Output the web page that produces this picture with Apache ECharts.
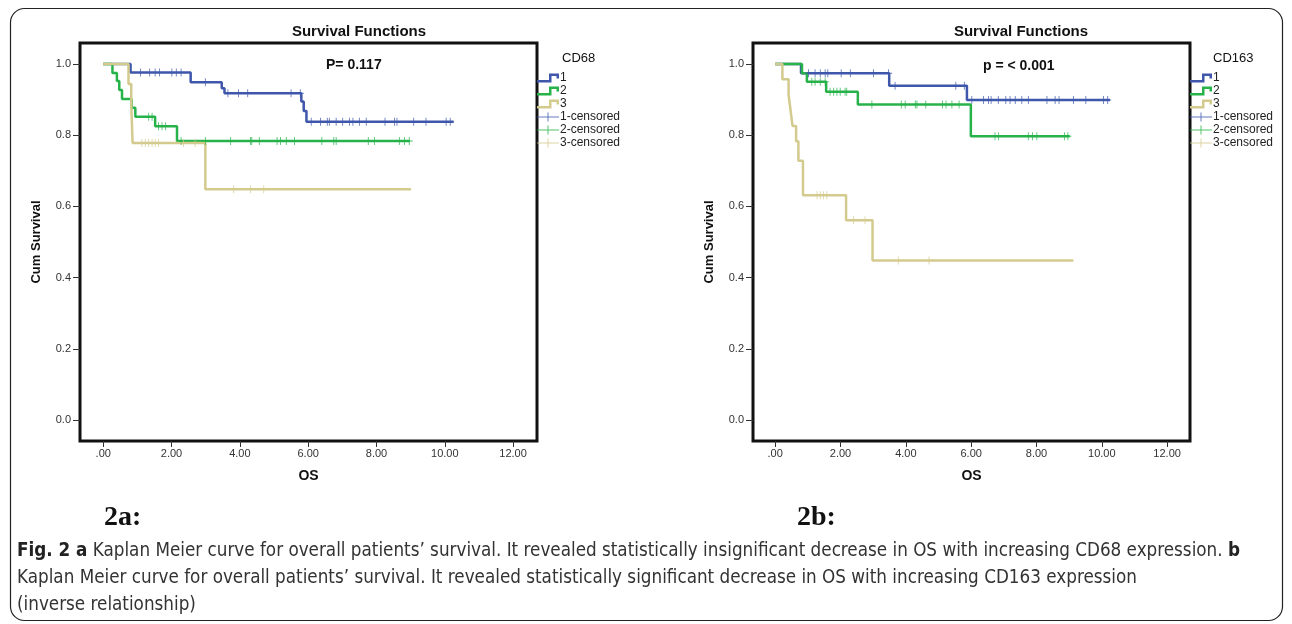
<!DOCTYPE html>
<html>
<head>
<meta charset="utf-8">
<script src="https://cdn.jsdelivr.net/npm/echarts@6/dist/echarts.min.js"></script>
<style>
html, body { margin: 0; padding: 0; background: #fff; }
#chart { width: 1292px; height: 624px; }
</style>
</head>
<body>
<div id="chart"></div>
<script>
// axes
const xTicks = [0, 2, 4, 6, 8, 10, 12]
const xTickLabels = ['.00', '2.00', '4.00', '6.00', '8.00', '10.00', '12.00']
const yTicks = [0, 0.2, 0.4, 0.6, 0.8, 1.0]
const yTickLabels = ['0.0', '0.2', '0.4', '0.6', '0.8', '1.0']
const groups = ['1', '2', '3']

// CD68 (panel a): event times, survival after each event, censor times, last follow-up
const cd68Time1 = [0.80, 2.56, 3.47, 3.55, 5.80, 5.87, 5.95]
const cd68Surv1 = [0.976, 0.949, 0.932, 0.918, 0.895, 0.868, 0.838]
const cd68Cens1 = [1.09, 1.36, 1.52, 1.65, 2.01, 2.14, 2.28, 2.99, 3.65, 3.96, 4.23, 5.50, 5.77,
  6.09, 6.36, 6.56, 6.62, 6.82, 7.01, 7.21, 7.31, 7.50, 7.70, 8.25, 8.53, 8.60, 9.09, 9.45, 10.04, 10.16]
const cd68End1 = 10.26

const cd68Time2 = [0.27, 0.40, 0.47, 0.55, 0.83, 0.94, 1.52, 2.16]
const cd68Surv2 = [0.975, 0.952, 0.927, 0.902, 0.877, 0.852, 0.825, 0.784]
const cd68Cens2 = [1.33, 1.43, 1.62, 1.72, 1.82, 2.28, 2.99, 3.73, 4.31, 4.35, 4.57, 5.09, 5.19,
  5.36, 5.60, 6.40, 6.75, 6.82, 7.76, 7.94, 8.67, 8.82, 8.96]
const cd68End2 = 8.98

const cd68Time3 = [0.74, 0.82, 0.86, 2.99]
const cd68Surv3 = [0.944, 0.889, 0.778, 0.648]
const cd68Cens3 = [1.13, 1.23, 1.33, 1.43, 1.52, 1.62, 2.35, 2.69, 3.82, 4.31, 4.70]
const cd68End3 = 9.01

// CD163 (panel b)
const cd163Time1 = [0.79, 3.49, 5.87]
const cd163Surv1 = [0.974, 0.939, 0.899]
const cd163Cens1 = [1.02, 1.22, 1.38, 1.53, 1.61, 2.02, 2.30, 3.01, 3.47, 3.67, 5.53, 5.79,
  6.02, 6.38, 6.53, 6.61, 6.83, 7.06, 7.19, 7.35, 7.55, 7.75, 8.32, 8.57, 8.69, 9.13, 9.51, 10.05, 10.18]
const cd163End1 = 10.25

const cd163Time2 = [0.82, 0.97, 1.56, 2.53, 5.99]
const cd163Surv2 = [0.974, 0.950, 0.922, 0.886, 0.797]
const cd163Cens2 = [1.12, 1.22, 1.38, 1.53, 1.68, 1.79, 1.89, 1.99, 2.14, 2.19, 2.96, 3.86, 3.98,
  4.29, 4.34, 4.61, 5.12, 5.23, 5.41, 5.63, 6.73, 6.84, 7.75, 7.88, 8.01, 8.86, 8.96]
const cd163End2 = 9.02

const cd163Time3 = [0.22, 0.41, 0.47, 0.53, 0.64, 0.71, 0.85, 2.17, 2.98]
const cd163Surv3 = [0.957, 0.913, 0.870, 0.826, 0.783, 0.728, 0.631, 0.561, 0.448]
const cd163Cens3 = [1.28, 1.38, 1.48, 1.58, 2.40, 2.75, 3.77, 4.71]
const cd163End3 = 9.13

const colors = ['#3f57ab', '#27b24a', '#d3ca8e']
const FONT = 'Liberation Sans, Arial, sans-serif'
const NARROW = '"Liberation Sans Narrow", "DejaVu Sans Condensed", sans-serif'

const stepIcon = 'path://M0,6.5H12V0H22V5H19.5V2.5H14.5V9H0Z'
const plusIcon = 'path://M0,4H10.5V0H11.5V4H22V5H11.5V9H10.5V5H0Z'
const plusMark = 'path://M0,3.5H3.5V0H4.5V3.5H8V4.5H4.5V8H3.5V4.5H0Z'

function stepData(times, surv, end) {
  const pts = [[0, 1]]
  times.forEach((t, i) => pts.push([t, surv[i]]))
  pts.push([end, surv[surv.length - 1]])
  return pts
}
function survAt(times, surv, t) {
  let s = 1
  times.forEach((tt, i) => { if (tt <= t) s = surv[i] })
  return s
}
function censorData(times, surv, cens) {
  return cens.map(t => [t, survAt(times, surv, t)])
}

const panels = [
  [[cd68Time1, cd68Surv1, cd68Cens1, cd68End1], [cd68Time2, cd68Surv2, cd68Cens2, cd68End2], [cd68Time3, cd68Surv3, cd68Cens3, cd68End3]],
  [[cd163Time1, cd163Surv1, cd163Cens1, cd163End1], [cd163Time2, cd163Surv2, cd163Cens2, cd163End2], [cd163Time3, cd163Surv3, cd163Cens3, cd163End3]]
]

const series = []
panels.forEach((panel, p) => {
  panel.forEach(([times, surv, cens, end], g) => {
    series.push({
      name: groups[g], type: 'line', step: 'end', xAxisIndex: p, yAxisIndex: p,
      showSymbol: false, symbol: 'none', animation: false, z: 3 + g,
      lineStyle: { width: 2.5, color: colors[g] }, itemStyle: { color: colors[g] },
      data: stepData(times, surv, end)
    })
  })
  panel.forEach(([times, surv, cens], g) => {
    series.push({
      name: groups[g] + '-censored', type: 'scatter', xAxisIndex: p, yAxisIndex: p,
      symbol: plusMark, symbolSize: [7, 8], animation: false, z: 6,
      itemStyle: { color: colors[g] },
      data: censorData(times, surv, cens)
    })
  })
})

const legendData = groups.map((g, i) => ({ name: g, icon: stepIcon }))
  .concat(groups.map(g => ({ name: g + '-censored', icon: plusIcon })))

function xAxis(i) {
  return {
    gridIndex: i, type: 'value', min: -0.68, max: 12.7,
    name: 'OS', nameLocation: 'middle', nameGap: 28,
    nameTextStyle: { fontFamily: FONT, fontWeight: 'bold', fontSize: 14, color: '#111' },
    axisLine: { show: false, onZero: false }, splitLine: { show: false },
    axisTick: { show: true, length: 6, customValues: xTicks, lineStyle: { color: '#333', width: 1 } },
    axisLabel: {
      customValues: xTicks, margin: 7, fontFamily: FONT, fontSize: 11, color: '#333',
      formatter: v => xTickLabels[xTicks.indexOf(v)]
    }
  }
}
function yAxis(i) {
  return {
    gridIndex: i, type: 'value', min: -0.059, max: 1.059,
    name: 'Cum Survival', nameLocation: 'middle', nameGap: 37,
    nameTextStyle: { fontFamily: FONT, fontWeight: 'bold', fontSize: 13, color: '#111' },
    axisLine: { show: false, onZero: false }, splitLine: { show: false },
    axisTick: { show: true, length: 7, customValues: yTicks, lineStyle: { color: '#333', width: 1 } },
    axisLabel: {
      customValues: yTicks, margin: 9, fontFamily: FONT, fontSize: 11, color: '#333',
      formatter: v => yTickLabels[yTicks.indexOf(v)]
    }
  }
}
function legend(left) {
  return {
    data: legendData, orient: 'vertical', left: left, top: 72, padding: 0,
    itemWidth: 22, itemHeight: 9, itemGap: 1, selectedMode: false,
    itemStyle: { borderWidth: 0 },
    textStyle: { fontFamily: FONT, fontSize: 12, color: '#222', padding: [0, 0, 0, -4] }
  }
}
function label(x, y, text, font, align) {
  return { type: 'text', x: x, y: y, style: { text: text, font: font, fill: '#111', textAlign: align || 'left', verticalAlign: 'middle' } }
}

const captionRich = {
  b: { font: 'bold 18.7px ' + NARROW, fill: '#222' }
}
const captionFont = '18.7px ' + NARROW

const chart = echarts.init(document.getElementById('chart'))
chart.setOption({
  backgroundColor: '#fff',
  animation: false,
  grid: [
    { left: 80, top: 43, width: 457, height: 398, show: true, borderColor: '#111', borderWidth: 3, backgroundColor: '#fff' },
    { left: 753, top: 43, width: 437, height: 398, show: true, borderColor: '#111', borderWidth: 3, backgroundColor: '#fff' }
  ],
  xAxis: [xAxis(0), xAxis(1)],
  yAxis: [yAxis(0), yAxis(1)],
  legend: [legend(537), legend(1190)],
  series: series,
  graphic: [
    { type: 'rect', shape: { x: 10.5, y: 8.5, width: 1272, height: 612, r: 14 }, style: { fill: 'none', stroke: '#222', lineWidth: 1.2 } },
    label(359, 32, 'Survival Functions', 'bold 15px ' + FONT, 'center'),
    label(326, 65, 'P= 0.117', 'bold 14px ' + FONT),
    label(562, 58, 'CD68', '13px ' + FONT),
    label(1021, 32, 'Survival Functions', 'bold 15px ' + FONT, 'center'),
    label(983, 66, 'p = < 0.001', 'bold 14px ' + FONT),
    label(1213, 58, 'CD163', '13px ' + FONT),
    label(104, 518, '2a:', 'bold 28px "Liberation Serif", serif'),
    label(797, 518, '2b:', 'bold 28px "Liberation Serif", serif'),
    { type: 'text', x: 17, y: 551, style: { text: '{b|Fig. 2 a} Kaplan Meier curve for overall patients\u2019 survival. It revealed statistically insignificant decrease in OS with increasing CD68 expression. {b|b}', font: captionFont, fill: '#333', rich: captionRich, verticalAlign: 'middle' } },
    { type: 'text', x: 17, y: 578, style: { text: 'Kaplan Meier curve for overall patients\u2019 survival. It revealed statistically significant decrease in OS with increasing CD163 expression', font: captionFont, fill: '#333', verticalAlign: 'middle' } },
    { type: 'text', x: 17, y: 605, style: { text: '(inverse relationship)', font: captionFont, fill: '#333', verticalAlign: 'middle' } }
  ]
})
</script>
</body>
</html>
